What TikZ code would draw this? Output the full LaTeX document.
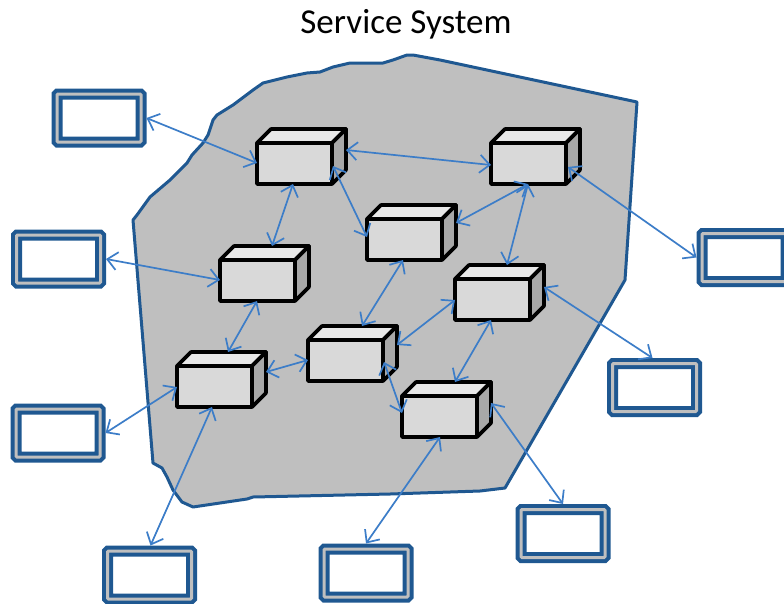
\documentclass[tikz,border=0pt]{standalone}
\usepackage{fontspec}
\setmainfont{Carlito}
\usetikzlibrary{arrows.meta,calc}
\definecolor{blobfill}{RGB}{191,191,191}
\definecolor{blobline}{RGB}{31,88,145}
\definecolor{boxblue}{RGB}{31,88,145}
\definecolor{boxgray}{RGB}{191,191,191}
\definecolor{arrowblue}{RGB}{60,125,200}
\definecolor{cubefront}{RGB}{217,217,217}
\definecolor{cubetop}{RGB}{232,232,232}
\definecolor{cubeside}{RGB}{168,168,168}
\begin{document}
\begin{tikzpicture}[x=1pt,y=-1pt,
  cube/.style={rectangle,minimum width=89pt,minimum height=55pt,inner sep=0pt,outer sep=0pt,anchor=north west},
  cubeline/.style={draw=black,line width=3.6pt,line join=round},
  ext/.style={rectangle,draw=boxblue,line width=4pt,double=boxgray,double distance=3pt,fill=white,minimum width=84pt,minimum height=48pt,inner sep=0pt,outer sep=5.5pt,rounded corners=1pt},
  link/.style={draw=arrowblue,line width=1.7pt,{Straight Barb[length=10pt,width=18pt]}-{Straight Barb[length=10pt,width=18pt]}},
  blob/.style={fill=blobfill,draw=blobline,line width=3pt,line join=round}]
\useasboundingbox (0,0) rectangle (784,603);
\fill[white] (0,0) rectangle (784,603);

\node[font=\fontsize{35}{42}\selectfont,anchor=base] (title) at (406,33) {Service System};

% system outline
\path[blob] (133,220) -- (137,215) -- (150,197) -- (170,180) -- (187,163) -- (192,155)
  -- (203,143) -- (208,135) -- (213,120) -- (217,115) -- (233,105) -- (253,90)
  -- (263,83) -- (287,77) -- (307,73) -- (320,72) -- (333,67) -- (350,63) -- (383,63)
  -- (393,60) -- (407,55) -- (413,55) -- (440,60) -- (637,102) -- (625,280) -- (505,488)
  -- (480,491) -- (390,494) -- (253,497) -- (247,499) -- (193,507) -- (182,502)
  -- (173,490) -- (167,477) -- (162,468) -- (153,463) -- cycle;

% external boxes
\node[ext] (b1) at (99,118) {};
\node[ext] (b2) at (58.5,259) {};
\node[ext] (b3) at (58,433) {};
\node[ext] (b4) at (149.5,575) {};
\node[ext] (b5) at (366,573) {};
\node[ext] (b6) at (563,533.5) {};
\node[ext] (b7) at (654.5,387.5) {};
\node[ext] (b8) at (744,257.5) {};

% cubes
\node[cube] (c1) at (257,129) {};
\node[cube] (c2) at (491,129) {};
\node[cube] (c3) at (367,205) {};
\node[cube] (c4) at (220,246) {};
\node[cube] (c5) at (455,265) {};
\node[cube] (c6) at (308,326) {};
\node[cube] (c7) at (177,352) {};
\node[cube] (c8) at (402,382) {};
\foreach \c in {c1,c2,c3,c4,c5,c6,c7,c8}{
  \path[cubeline,fill=cubefront] ([shift={(0,14)}]\c.north west) rectangle ([shift={(-14,0)}]\c.south east);
  \path[cubeline,fill=cubetop] ([shift={(0,14)}]\c.north west) -- ([shift={(14,0)}]\c.north west)
     -- (\c.north east) -- ([shift={(-14,14)}]\c.north east) -- cycle;
  \path[cubeline,fill=cubeside] ([shift={(-14,14)}]\c.north east) -- (\c.north east)
     -- ([shift={(0,-14)}]\c.south east) -- ([shift={(-14,0)}]\c.south east) -- cycle;
}

% connectors
\draw[link] (b1.east) -- ([shift={(0,-21)}]c1.south west);
\draw[link] ([shift={(0,21)}]c1.north east) -- ([shift={(0,-19)}]c2.south west);
\draw[link] ([shift={(36,0)}]c1.south west) -- ([shift={(52,0)}]c4.north west);
\draw[link] ([shift={(76,-18)}]c1.south west) -- ([shift={(0,-23)}]c3.south west);
\draw[link] ([shift={(37,0)}]c2.south west) -- ([shift={(0,18)}]c3.north east);
\draw[link] ([shift={(37,0)}]c2.south west) -- ([shift={(52,0)}]c5.north west);
\draw[link] ([shift={(77,-17)}]c2.south west) -- (b8.west);
\draw[link] (b2.east) -- ([shift={(0,-21)}]c4.south west);
\draw[link] ([shift={(37,0)}]c4.south west) -- ([shift={(51,0)}]c7.north west);
\draw[link] ([shift={(0,20)}]c7.north east) -- ([shift={(0,-21)}]c6.south west);
\draw[link] ([shift={(0,-20)}]c7.south west) -- (b3.east);
\draw[link] ([shift={(35,0)}]c7.south west) -- ([shift={(1,0)}]b4.north);
\draw[link] ([shift={(36,0)}]c3.south west) -- ([shift={(54,0)}]c6.north west);
\draw[link] ([shift={(0,-20)}]c5.south west) -- ([shift={(0,19)}]c6.north east);
\draw[link] ([shift={(76,-19)}]c6.south west) -- ([shift={(0,-24)}]c8.south west);
\draw[link] ([shift={(36,0)}]c5.south west) -- ([shift={(53,0)}]c8.north west);
\draw[link] ([shift={(0,22)}]c5.north east) -- ([shift={(-2,0)}]b7.north);
\draw[link] ([shift={(0,21)}]c8.north east) -- (b6.north);
\draw[link] ([shift={(38,0)}]c8.south west) -- (b5.north);
\end{tikzpicture}
\end{document}
